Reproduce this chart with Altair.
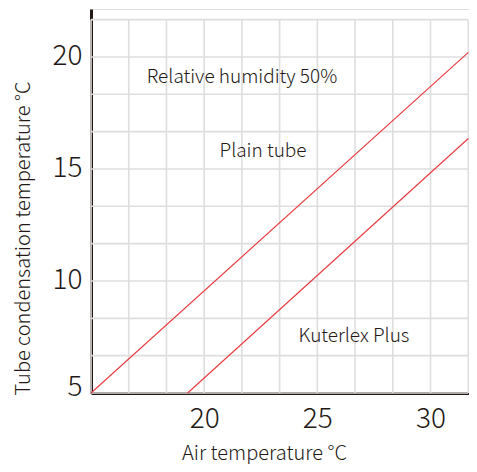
import altair as alt
import pandas as pd

# ---- data ----
air_plain = [15.0, 31.67]
cond_plain = [5.0, 20.2]
air_kuter = [19.27, 31.67]
cond_kuter = [5.0, 16.36]

grid_x = [15.0, 16.667, 18.333, 20.0, 21.667, 23.333, 25.0, 26.667, 28.333, 30.0, 31.667]
grid_y = [5.0, 6.667, 8.333, 10.0, 11.667, 13.333, 15.0, 16.667, 18.333, 20.0, 21.667]

x_ticks = [20, 25, 30]
y_ticks = [5, 10, 15, 20]

note_text = ["Relative humidity 50%", "Plain tube", "Kuterlex Plus"]
note_x = [21.67, 22.6, 26.62]
note_y = [19.1, 15.8, 7.55]

FONT = "Noto Sans CJK JP"
W = 300
INK = "#231815"
RED = "#e8383d"
GRID = "#dedede"

x_dom = [15, 31.7]
y_dom = [5, 22.14]

lines_df = pd.DataFrame({
    "air": air_plain + air_kuter,
    "cond": cond_plain + cond_kuter,
    "series": ["Plain tube"] * len(air_plain) + ["Kuterlex Plus"] * len(air_kuter),
})
vgrid_df = pd.DataFrame({"x": grid_x, "y0": [grid_y[0]] * len(grid_x), "y1": [grid_y[-1]] * len(grid_x)})
hgrid_df = pd.DataFrame({"y": grid_y, "x0": [grid_x[0]] * len(grid_y), "x1": [grid_x[-1]] * len(grid_y)})
notes_df = pd.DataFrame({"t": note_text, "x": note_x, "y": note_y})

xs = alt.Scale(domain=x_dom, nice=False, zero=False)
ys = alt.Scale(domain=y_dom, nice=False, zero=False)

vgrid = alt.Chart(vgrid_df).mark_rule(color=GRID, strokeWidth=1.6).encode(
    x=alt.X("x:Q", scale=xs, axis=alt.Axis(
        values=x_ticks, title="Air temperature °C", grid=False, ticks=False,
        domainColor=INK, domainWidth=3, labelFont=FONT, labelFontSize=28, labelColor=INK,
        labelFontWeight=W, labelPadding=12, labelFlush=False,
        titleFont=FONT, titleFontSize=20, titleFontWeight=W, titleColor=INK,
        titleX=173, titleY=66, titleBaseline="alphabetic", titleAlign="center")),
    y=alt.Y("y0:Q", scale=ys, axis=alt.Axis(
        values=y_ticks, title="Tube condensation temperature °C", grid=False, ticks=False,
        domainColor=INK, domainWidth=3, labelFont=FONT, labelFontSize=28, labelColor=INK,
        labelFontWeight=W, labelPadding=9, labelFlush=True, labelFlushOffset=8,
        titleFont=FONT, titleFontSize=20, titleFontWeight=W, titleColor=INK,
        titleX=-68, titleY=386, titleAngle=270, titleAlign="left", titleBaseline="middle")),
    y2="y1:Q",
)
hgrid = alt.Chart(hgrid_df).mark_rule(color=GRID, strokeWidth=1.6).encode(
    y=alt.Y("y:Q", scale=ys), x=alt.X("x0:Q", scale=xs), x2="x1:Q",
)
lines = alt.Chart(lines_df).mark_line(color=RED, strokeWidth=1.1).encode(
    x=alt.X("air:Q", scale=xs),
    y=alt.Y("cond:Q", scale=ys),
    detail="series:N",
)
notes = alt.Chart(notes_df).mark_text(font=FONT, fontSize=19, fontWeight=W, color=INK,
                                       align="center", baseline="middle").encode(
    x=alt.X("x:Q", scale=xs), y=alt.Y("y:Q", scale=ys), text="t:N",
)

chart = alt.layer(vgrid, hgrid, lines, notes).properties(
    width=378, height=384,
    autosize=alt.AutoSizeParams(type="none"),
    padding={"left": 83, "top": 1, "right": 0, "bottom": 71},
).configure_view(stroke=None).configure(background="white")

chart.save("out.html", embed_options={"renderer": "svg", "actions": False})
